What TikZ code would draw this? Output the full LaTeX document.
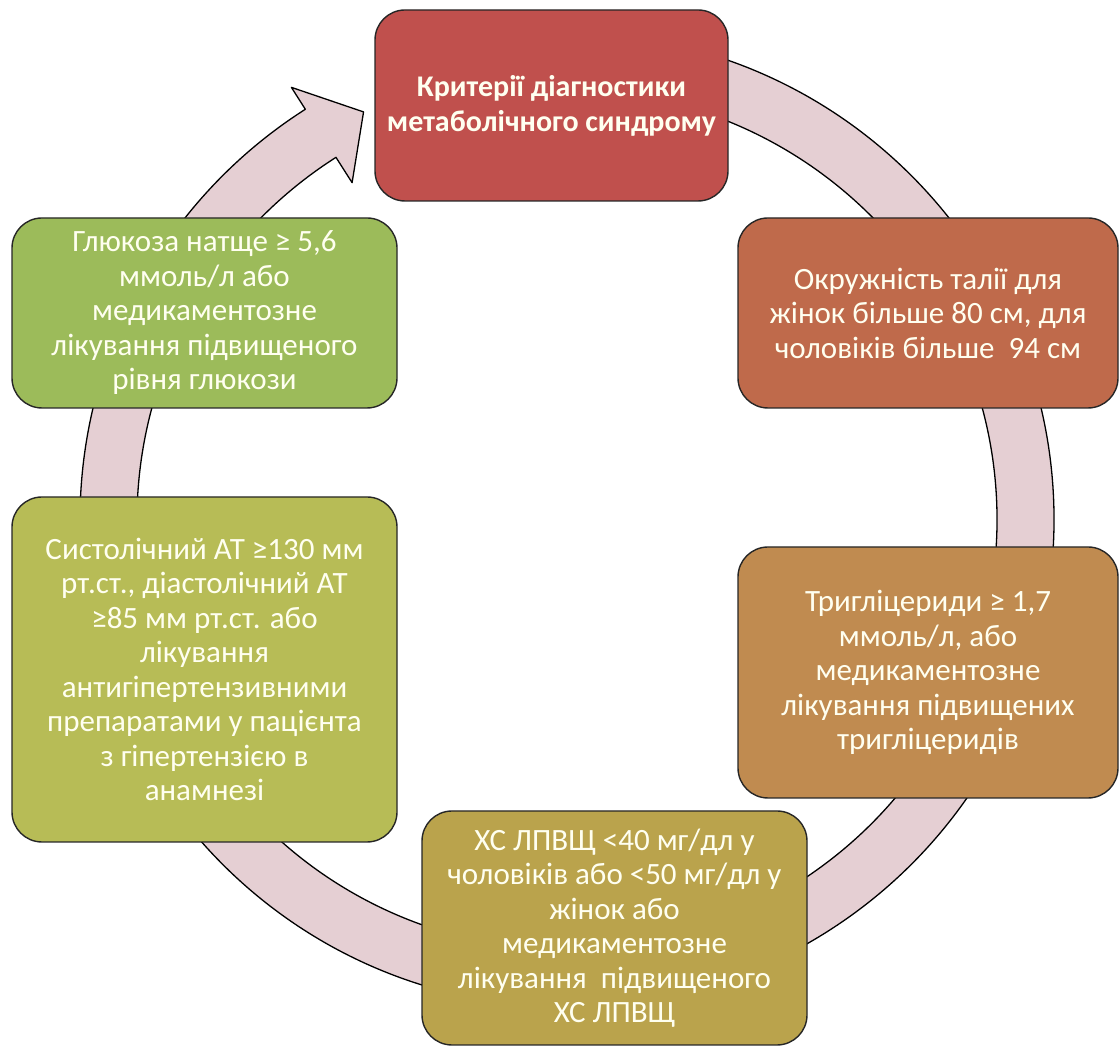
\documentclass[tikz,border=0pt]{standalone}
\usepackage{fontspec}
\setmainfont{Carlito}
\definecolor{critred}{RGB}{192,80,77}
\definecolor{waistbrown}{RGB}{191,106,75}
\definecolor{trigtan}{RGB}{192,139,80}
\definecolor{hdlolive}{RGB}{186,163,76}
\definecolor{bpyellow}{RGB}{183,188,86}
\definecolor{glucgreen}{RGB}{156,187,90}
\definecolor{ringpink}{RGB}{229,207,211}
\definecolor{creamtext}{RGB}{255,255,240}

\begin{document}
\begin{tikzpicture}[x=1pt, y=1pt,
    critbox/.style={draw=black!85, line width=1.4pt, rounded corners=30pt,
      text=creamtext, align=center, inner sep=0pt,
      font=\fontsize{31}{34.5}\selectfont}]
  \useasboundingbox (0,0) rectangle (1120,1048);

  % Ring arrow behind the boxes
  \begin{scope}[shift={(567,528)}]
    \draw[fill=ringpink, line width=1.3pt, line join=round]
      (85:487) arc[start angle=85, end angle=-237.5, radius=487]
      -- (-237.5:513) -- (-243.5:456) -- (-237.5:400) -- (-237.5:430)
      arc[start angle=-237.5, end angle=85, radius=430] -- cycle;
  \end{scope}

  % Title
  \node[critbox, fill=critred, minimum width=353pt, minimum height=191pt,
    font=\fontsize{30}{35}\selectfont\bfseries]
    (crit) at (551.5,942.5) {Критерії діагностики\\метаболічного синдрому};

  % Criteria, clockwise
  \node[critbox, fill=waistbrown, minimum width=380pt, minimum height=190pt]
    (waist) at (928,735) {Окружність талії для\\жінок більше 80 см, для\\чоловіків більше~ 94 см};
  \node[critbox, fill=trigtan, minimum width=380pt, minimum height=251pt]
    (trig) at (928,375.5) {Тригліцериди ≥ 1,7\\ммоль/л, або\\медикаментозне\\лікування підвищених\\тригліцеридів};
  \node[critbox, fill=hdlolive, minimum width=385pt, minimum height=234pt]
    (hdl) at (614.5,120) {ХС ЛПВЩ <40 мг/дл у\\чоловіків або <50 мг/дл у\\жінок або\\медикаментозне\\лікування~ підвищеного\\ХС ЛПВЩ};
  \node[critbox, fill=bpyellow, minimum width=385pt, minimum height=345pt]
    (bp) at (204.5,378.5) {Систолічний АТ ≥130 мм\\рт.ст., діастолічний АТ\\≥85 мм рт.ст. або\\лікування\\антигіпертензивними\\препаратами у пацієнта\\з гіпертензією в\\анамнезі};
  \node[critbox, fill=glucgreen, minimum width=385pt, minimum height=190pt]
    (gluc) at (204.5,735) {Глюкоза натще ≥ 5,6\\ммоль/л або\\медикаментозне\\лікування підвищеного\\рівня глюкози};

\end{tikzpicture}
\end{document}
